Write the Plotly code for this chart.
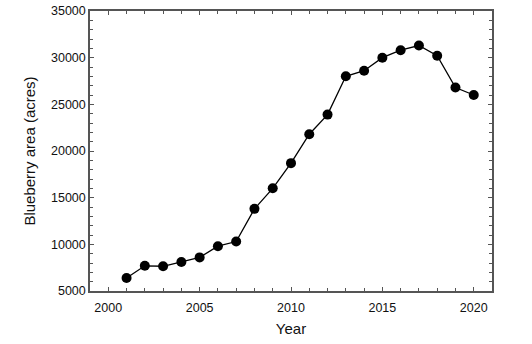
import plotly.graph_objects as go

years = list(range(2001, 2021))
area = [6400, 7700, 7650, 8100, 8600, 9800, 10300, 13800, 16000, 18700,
        21800, 23900, 28000, 28600, 30000, 30800, 31300, 30200, 26800, 26000]

x_ticks = [2000, 2005, 2010, 2015, 2020]
y_ticks = [5000, 10000, 15000, 20000, 25000, 30000, 35000]

FONT = "Liberation Sans, Arial, sans-serif"

fig = go.Figure()
fig.add_trace(go.Scatter(
    x=years, y=area, mode="lines+markers",
    line=dict(color="black", width=1.3),
    marker=dict(color="black", size=10),
    showlegend=False,
))

axis_common = dict(
    showline=True, linecolor="#555555", linewidth=1.5, mirror="allticks",
    ticks="inside", ticklen=4, tickcolor="#555555", tickwidth=1,
    showgrid=False, zeroline=False, automargin=False,
    tickfont=dict(family=FONT, size=12.5, color="#111111"),
)

fig.update_xaxes(
    range=[1999, 2021], tickvals=x_ticks, ticktext=[str(v) for v in x_ticks],
    minor=dict(dtick=1, tick0=2000, ticks="inside", ticklen=3, tickcolor="#555555"),
    ticklabelstandoff=4,
    title=dict(text="Year", font=dict(family=FONT, size=15, color="#111111"), standoff=10),
    **axis_common,
)
fig.update_yaxes(
    range=[5000, 35000], tickvals=y_ticks, ticktext=[str(v) for v in y_ticks],
    minor=dict(dtick=1000, tick0=5000, ticks="inside", ticklen=3, tickcolor="#555555"),
    title=dict(text="Blueberry area (acres)", font=dict(family=FONT, size=15, color="#111111"), standoff=12),
    **axis_common,
)

fig.update_layout(
    width=532, height=344,
    margin=dict(l=90, r=40, t=11, b=53),
    paper_bgcolor="white", plot_bgcolor="white",
)

fig.write_html("out.html")
